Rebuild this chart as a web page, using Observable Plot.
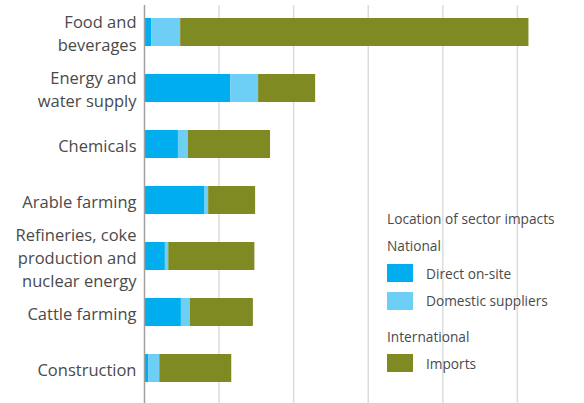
<!DOCTYPE html>
<html>
<head>
<meta charset="utf-8">
<script src="https://cdn.jsdelivr.net/npm/d3@7"></script>
<script src="https://cdn.jsdelivr.net/npm/@observablehq/plot@0.6"></script>
<style>
  html, body { margin: 0; padding: 0; background: #fff; }
  #wrap { position: relative; width: 584px; height: 403px; font-family: "Open Sans", sans-serif; }
  #legend { position: absolute; left: 387px; top: 0; color: #4a4a4a; font-size: 13.7px; }
  #legend .item { position: absolute; left: 0; white-space: nowrap; display: flex; align-items: center; height: 20px; }
  #legend .sw { width: 26px; height: 18px; margin-right: 13px; }
</style>
</head>
<body>
<div id="wrap"></div>
<script>
const categories = ["Food and\nbeverages", "Energy and\nwater supply", "Chemicals", "Arable farming", "Refineries, coke\nproduction and\nnuclear energy", "Cattle farming", "Construction"];
const seriesNames = ["Direct on-site", "Domestic suppliers", "Imports"];
const directOnSite = [1.9, 23.1, 9.1, 16.1, 5.6, 9.9, 1.1];
const domesticSuppliers = [7.8, 7.5, 2.7, 1.1, 0.9, 2.4, 3.0];
const imports = [93.4, 15.3, 22.0, 12.6, 23.1, 16.9, 19.3];
const gridTicks = [20, 40, 60, 80, 100];
const colors = ["#00aeef", "#6dcff6", "#7f8a22"];

const seriesValues = [directOnSite, domesticSuppliers, imports];
const data = [];
categories.forEach((c, i) => {
  seriesNames.forEach((s, j) => data.push({category: c, series: s, value: seriesValues[j][i]}));
});

const chart = Plot.plot({
  width: 584,
  height: 403,
  marginLeft: 144,
  marginRight: 0,
  marginTop: 5,
  marginBottom: 0,
  style: {fontFamily: "Open Sans, sans-serif", background: "#fff"},
  x: {domain: [0, 118], axis: null},
  y: {domain: categories, range: [4, 396], paddingInner: 0.5, paddingOuter: 0.25, label: null},
  color: {domain: seriesNames, range: colors},
  marks: [
    Plot.ruleX(gridTicks, {stroke: "#dcdcdc", strokeWidth: 1.5}),
    Plot.barX(data, Plot.stackX({x: "value", y: "category", fill: "series", order: seriesNames})),
    Plot.ruleX([0], {stroke: "#a0a0a0", strokeWidth: 1.5}),
    Plot.axisY({tickSize: 0, tickPadding: 8, fontSize: 16.5, fill: "#4a4a4a", lineHeight: 1.38, label: null})
  ]
});
document.getElementById("wrap").appendChild(chart);

// legend rows: [text, swatch color index or null, vertical centre]
const legendRows = [
  ["Location of sector impacts", null, 218],
  ["National", null, 245],
  [seriesNames[0], 0, 273],
  [seriesNames[1], 1, 300.5],
  ["International", null, 336],
  [seriesNames[2], 2, 363]
];
const legend = document.createElement("div");
legend.id = "legend";
legend.innerHTML = legendRows.map(([t, k, cy]) =>
  `<div class="item" style="top:${cy - 10}px">${k === null ? "" : `<div class="sw" style="background:${colors[k]}"></div>`}<span>${t}</span></div>`
).join("");
document.getElementById("wrap").appendChild(legend);
</script>
</body>
</html>
